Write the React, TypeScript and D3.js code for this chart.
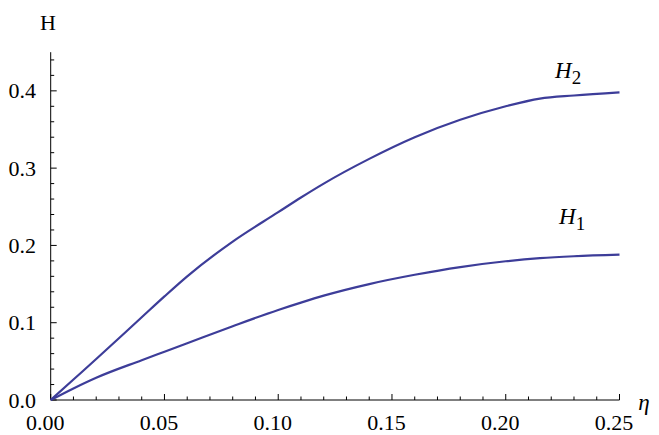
import React from 'react';
import * as d3 from 'd3';

const eta = [0, 0.01, 0.02, 0.04, 0.05, 0.06, 0.08, 0.10, 0.11, 0.12, 0.14, 0.16, 0.18, 0.20, 0.215, 0.23, 0.25];
const h1 = [0, 0.015, 0.0288, 0.0515, 0.0625, 0.0735, 0.0955, 0.1165, 0.126, 0.135, 0.150, 0.162, 0.172, 0.1795, 0.1835, 0.186, 0.188];
const h2 = [0, 0.0265, 0.053, 0.107, 0.134, 0.160, 0.205, 0.243, 0.262, 0.280, 0.312, 0.340, 0.3625, 0.380, 0.390, 0.394, 0.398];

const xMajor = [0, 0.05, 0.10, 0.15, 0.20, 0.25];
const yMajor = [0, 0.1, 0.2, 0.3, 0.4];

const W = 659;
const H = 435;
const lineColor = '#3d3d99';
const font = '"Liberation Serif", "Times New Roman", serif';

const App = () => {
    const x = d3.scaleLinear().domain([0, 0.25]).range([50.7, 619.5]);
    const y = d3.scaleLinear().domain([0, 0.45]).range([400, 52.2]);

    // minor ticks: 0.01 on x, 0.02 on y
    const xMinor = d3.range(0, 26).map(i => i / 100).filter(v => !xMajor.some(m => Math.abs(m - v) < 1e-9));
    const yMinor = d3.range(0, 23).map(i => i / 50).filter(v => !yMajor.some(m => Math.abs(m - v) < 1e-9));

    const line = d3.line<number>()
        .x((d, i) => x(eta[i]))
        .y(d => y(d))
        .curve(d3.curveMonotoneX);

    return (
        <svg width={W} height={H} style={{ position: 'absolute', left: 0, top: 0, background: 'white' }}>
            {/* axes */}
            <line x1={x(0)} x2={x(0.25)} y1={y(0)} y2={y(0)} stroke="black" strokeWidth={1} />
            <line x1={x(0)} x2={x(0)} y1={y(0)} y2={y(0.45)} stroke="black" strokeWidth={1} />

            {xMajor.map(v => (
                <g key={'xm' + v}>
                    <line x1={x(v)} x2={x(v)} y1={y(0)} y2={y(0) - 6} stroke="black" />
                    <text x={x(v) - 5.5} y={y(0) + 30} textAnchor="middle" fontFamily={font} fontSize={22}>
                        {v.toFixed(2)}
                    </text>
                </g>
            ))}
            {xMinor.map(v => (
                <line key={'xn' + v} x1={x(v)} x2={x(v)} y1={y(0)} y2={y(0) - 3.5} stroke="black" />
            ))}

            {yMajor.map(v => (
                <g key={'ym' + v}>
                    <line x1={x(0)} x2={x(0) + 6} y1={y(v)} y2={y(v)} stroke="black" />
                    <text x={36} y={y(v) + 7.5} textAnchor="end" fontFamily={font} fontSize={22}>
                        {v.toFixed(1)}
                    </text>
                </g>
            ))}
            {yMinor.map(v => (
                <line key={'yn' + v} x1={x(0)} x2={x(0) + 3.5} y1={y(v)} y2={y(v)} stroke="black" />
            ))}

            {/* axis labels */}
            <text x={48} y={30} textAnchor="middle" fontFamily={font} fontSize={22}>H</text>
            <text x={644} y={410} textAnchor="middle" fontFamily={font} fontSize={23} fontStyle="italic">η</text>

            {/* curves */}
            <path d={line(h1) || ''} fill="none" stroke={lineColor} strokeWidth={2.2} />
            <path d={line(h2) || ''} fill="none" stroke={lineColor} strokeWidth={2.2} />

            {/* curve labels */}
            <text x={555} y={78} fontFamily={font} fontSize={23} fontStyle="italic">
                H<tspan fontStyle="normal" fontSize={19} dy={6}>2</tspan>
            </text>
            <text x={559} y={224} fontFamily={font} fontSize={23} fontStyle="italic">
                H<tspan fontStyle="normal" fontSize={19} dy={6}>1</tspan>
            </text>
        </svg>
    );
};

export default App;
